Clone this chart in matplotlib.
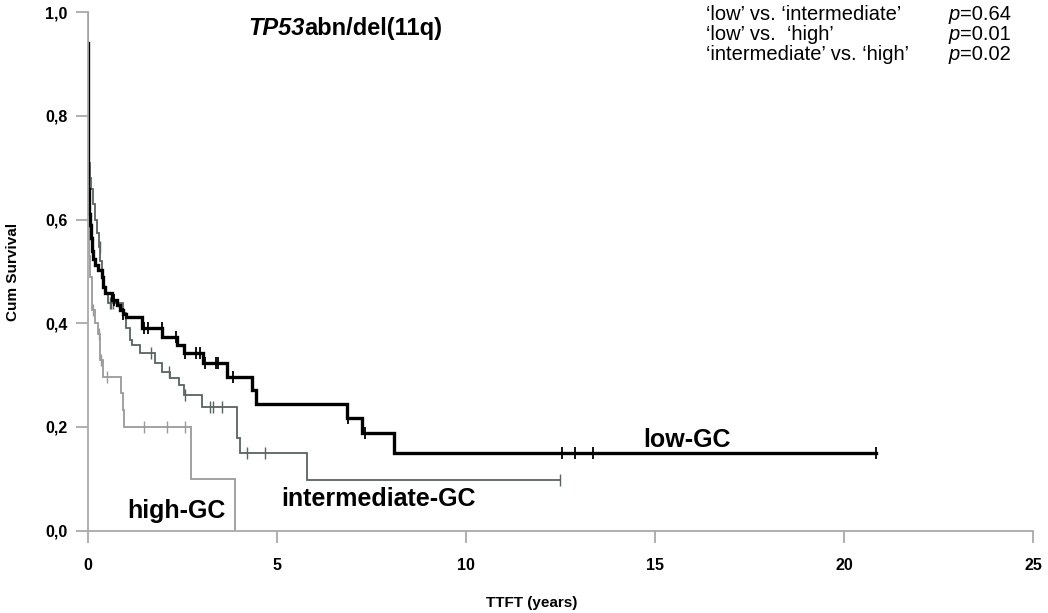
import numpy as np
import matplotlib
matplotlib.use("Agg")
import matplotlib.pyplot as plt

plt.rcParams['font.family'] = ['Liberation Sans', 'DejaVu Sans']

# Kaplan-Meier step data (time in years, cumulative survival after each event)
low_t = [0, 0.005, 0.01, 0.015, 0.02, 0.035, 0.05, 0.07, 0.09, 0.11, 0.15, 0.2, 0.29,
         0.37, 0.42, 0.46, 0.64, 0.77, 0.86, 0.95, 1.03, 1.44, 1.97, 2.37, 2.54, 3.06,
         3.68, 4.35, 4.46, 6.85, 7.26, 8.1, 20.85]
low_s = [0.94, 0.85, 0.78, 0.72, 0.66, 0.63, 0.61, 0.59, 0.565, 0.54, 0.525, 0.513, 0.503,
         0.49, 0.47, 0.458, 0.445, 0.435, 0.426, 0.418, 0.413, 0.39, 0.374, 0.358, 0.342, 0.323,
         0.297, 0.271, 0.244, 0.217, 0.188, 0.149, 0.149]
low_cens = [0.7, 0.95, 1.48, 1.6, 1.96, 2.33, 2.58, 2.86, 2.97, 3.1, 3.39, 3.46, 3.85,
            6.88, 7.33, 12.55, 12.88, 13.36, 20.85]

int_t = [0, 0.005, 0.01, 0.02, 0.04, 0.07, 0.1, 0.15, 0.2, 0.25, 0.3, 0.34, 0.37, 0.41,
         0.46, 0.55, 0.95, 1.03, 1.12, 1.18, 1.39, 1.79, 1.97, 2.19, 2.41, 2.54, 3.02, 3.94,
         4.03, 5.8, 12.48]
int_s = [1.0, 0.9, 0.82, 0.76, 0.71, 0.68, 0.66, 0.63, 0.6, 0.575, 0.548, 0.52, 0.49, 0.47,
         0.458, 0.44, 0.419, 0.39, 0.368, 0.358, 0.342, 0.323, 0.307, 0.294, 0.281, 0.262, 0.238,
         0.178, 0.149, 0.098, 0.098]
int_cens = [0.32, 0.6, 0.63, 0.67, 1.69, 2.15, 2.57, 3.25, 3.32, 3.55, 4.21, 4.7, 12.48]

high_t = [0, 0.01, 0.02, 0.03, 0.05, 0.07, 0.11, 0.2, 0.28, 0.33, 0.42, 0.88, 0.93, 0.97,
          2.74, 3.9]
high_s = [1.0, 0.83, 0.7, 0.6, 0.53, 0.49, 0.426, 0.40, 0.38, 0.33, 0.297, 0.265, 0.233, 0.2,
          0.1, 0.0]
high_cens = [0.15, 0.3, 0.35, 0.51, 1.49, 2.1, 2.59]

x_ticks = [0, 5, 10, 15, 20, 25]
y_ticks = [0.0, 0.2, 0.4, 0.6, 0.8, 1.0]
y_tick_labels = ['0,0', '0,2', '0,4', '0,6', '0,8', '1,0']

p_pairs = ["\u2018low\u2019 vs. \u2018intermediate\u2019",
           "\u2018low\u2019 vs.  \u2018high\u2019",
           "\u2018intermediate\u2019 vs. \u2018high\u2019"]
p_values = ["0.64", "0.01", "0.02"]

C_LOW = '#000000'
C_INT = '#5b6360'
C_HIGH = '#9a9a9a'
C_AXIS = '#a9a9a9'


def surv_at(times, surv, t):
    idx = np.searchsorted(np.asarray(times), np.asarray(t), side='right') - 1
    return np.asarray(surv)[np.clip(idx, 0, len(surv) - 1)]


fig = plt.figure(figsize=(10.48, 6.13), dpi=100)
ax = fig.add_axes([0.0835, 0.1343, 0.9025, 0.8457])

for t, s, cens, col, lw, ms, mew in [
        (high_t, high_s, high_cens, C_HIGH, 1.3, 8, 1.0),
        (int_t, int_s, int_cens, C_INT, 1.3, 8, 1.0),
        (low_t, low_s, low_cens, C_LOW, 2.4, 9, 1.3)]:
    ax.step(t, s, where='post', color=col, lw=lw, solid_joinstyle='miter')
    ax.plot(cens, surv_at(t, s, cens), ls='none', marker='|', ms=ms, mew=mew, color=col)

ax.set_xlim(0, 25)
ax.set_ylim(0, 1.0)
for side in ('top', 'right'):
    ax.spines[side].set_visible(False)
for side in ('left', 'bottom'):
    ax.spines[side].set_color(C_AXIS)
    ax.spines[side].set_linewidth(1.3)

ax.set_xticks(x_ticks)
ax.set_xticklabels([str(v) for v in x_ticks])
ax.set_yticks(y_ticks)
ax.set_yticklabels(y_tick_labels)
ax.tick_params(axis='both', colors=C_AXIS, labelcolor='black', width=1.3, length=8.5,
               labelsize=11.5)
ax.tick_params(axis='x', pad=11)
ax.tick_params(axis='y', pad=6)
for lab in ax.get_xticklabels() + ax.get_yticklabels():
    lab.set_fontweight('bold')

# axis titles
fig.text(532 / 1048, 1 - 603 / 613, 'TTFT (years)', ha='center', va='center',
         fontsize=11, fontweight='bold')
fig.text(13 / 1048, 1 - 272 / 613, 'Cum Survival', ha='center', va='center',
         rotation=90, fontsize=11, fontweight='bold')

# group labels
ax.text(14.68, 0.162, 'low-GC', fontsize=18, fontweight='bold', va='baseline')
ax.text(5.13, 0.048, 'intermediate-GC', fontsize=18, fontweight='bold', va='baseline')
ax.text(1.04, 0.0245, 'high-GC', fontsize=18, fontweight='bold', va='baseline')

# title: italic gene name followed by upright text
t1 = fig.text(248 / 1048, 1 - 35 / 613, 'TP53', fontsize=17, fontweight='bold',
              style='italic', va='baseline')
ax.annotate('abn/del(11q)', xy=(1, 0), xycoords=t1, fontsize=17, fontweight='bold',
            va='bottom', ha='left', annotation_clip=False)

# pairwise log-rank p-values, three aligned rows
P_FS = 14.5
P_LS = 1.06
top_y = 1 - 5 / 613
fig.text(706 / 1048, top_y, '\n'.join(p_pairs), fontsize=P_FS, va='top', ha='left',
         linespacing=P_LS)
pcol = fig.text(949 / 1048, top_y, '\n'.join(['p'] * len(p_values)), fontsize=P_FS,
                style='italic', va='top', ha='left', linespacing=P_LS)
ax.annotate('\n'.join('=' + v for v in p_values), xy=(1, 1), xycoords=pcol,
            fontsize=P_FS, va='top', ha='left', linespacing=P_LS, annotation_clip=False)

fig.savefig('out.png', dpi=100)
